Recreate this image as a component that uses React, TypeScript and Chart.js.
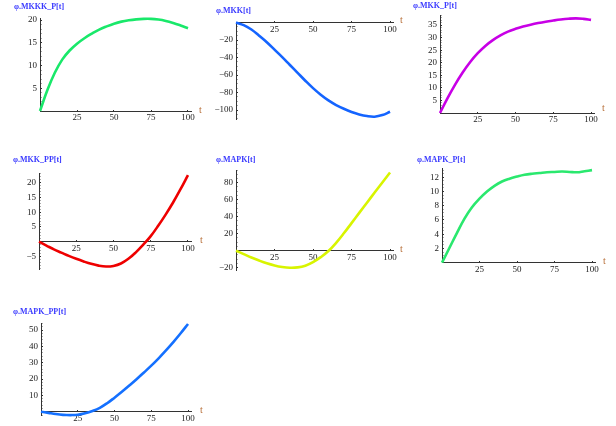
import React, { useEffect, useRef } from "react";
import { Chart, registerables } from "chart.js";
Chart.register(...registerables);

// time points (t)
const T_VALUES = [0, 5, 10, 15, 20, 25, 30, 35, 40, 45, 50, 55, 60, 65, 70, 75, 80, 85, 90, 95, 100];

// series values
const MKKK_P = [0, 4.6, 8.4, 11.3, 13.3, 14.8, 16.0, 17.0, 17.9, 18.6, 19.2, 19.65, 19.95, 20.15, 20.25, 20.25, 20.1, 19.8, 19.35, 18.8, 18.2];
const MKK = [0, -3, -8, -15, -22.5, -31, -39.5, -48.5, -57.5, -66.5, -75, -82.5, -89, -94.3, -98.6, -102.2, -105, -106.9, -107.6, -105.8, -102];
const MKK_P = [0, 5.9, 11.3, 16.1, 20.3, 23.8, 26.7, 29.0, 30.9, 32.4, 33.5, 34.4, 35.15, 35.8, 36.35, 36.8, 37.2, 37.5, 37.65, 37.45, 37.05];
const MKK_PP = [0, -1.3, -2.6, -3.7, -4.8, -5.8, -6.7, -7.5, -8.1, -8.4, -8.2, -7.4, -5.8, -3.6, -1.0, 1.9, 5.4, 9.2, 13.3, 17.8, 22.6];
const MAPK = [0, -4, -8, -11.6, -14.8, -17.3, -19.1, -20, -19.6, -17.6, -13.4, -7.6, -0.4, 9.3, 20.5, 32.5, 44.5, 56.5, 68.5, 80.2, 92];
const MAPK_P = [0, 2.1, 4.2, 6.2, 7.8, 9.0, 10.0, 10.8, 11.4, 11.8, 12.1, 12.35, 12.5, 12.6, 12.7, 12.75, 12.8, 12.75, 12.7, 12.85, 13.0];
const MAPK_PP = [0, -0.7, -1.4, -1.9, -2.1, -1.8, -0.9, 0.5, 2.4, 5.2, 8.6, 12.2, 16.0, 19.9, 24.0, 28.2, 32.7, 37.5, 42.6, 48.0, 53.7];

// tick labels
const X_TICK_LABELS = [25, 50, 75, 100];
const Y_TICKS_MKKK_P = [5, 10, 15, 20];
const Y_TICKS_MKK = [-20, -40, -60, -80, -100];
const Y_TICKS_MKK_P = [5, 10, 15, 20, 25, 30, 35];
const Y_TICKS_MKK_PP = [-5, 5, 10, 15, 20];
const Y_TICKS_MAPK = [-20, 20, 40, 60, 80];
const Y_TICKS_MAPK_P = [2, 4, 6, 8, 10, 12];
const Y_TICKS_MAPK_PP = [10, 20, 30, 40, 50];

const TITLES = ["φ.MKKK_P[t]", "φ.MKK[t]", "φ.MKK_P[t]", "φ.MKK_PP[t]", "φ.MAPK[t]", "φ.MAPK_P[t]", "φ.MAPK_PP[t]"];

type Panel = {
  title: string;
  values: number[];
  color: string;
  yTicks: number[];
  yMinor: number;
  yMin: number;
  yMax: number;
  cell: [number, number, number, number];
  area: [number, number, number, number];
  titlePos: [number, number];
  tPos: [number, number];
};

const X_MAX = 102.5;
const Y_AXIS_W = 30;

const PANELS: Panel[] = [
  { title: TITLES[0], values: MKKK_P, color: "#19e86a", yTicks: Y_TICKS_MKKK_P, yMinor: 1, yMin: 0, yMax: 20.4,
    cell: [0, 0, 205, 140], area: [40, 18.2, 191.7, 111], titlePos: [14, 7], tPos: [199, 110] },
  { title: TITLES[1], values: MKK, color: "#1464ff", yTicks: Y_TICKS_MKK, yMinor: 5, yMin: -110.6, yMax: 0.5,
    cell: [205, 0, 205, 140], area: [236, 22.1, 393.9, 119.3], titlePos: [216, 10.5], tPos: [400, 20] },
  { title: TITLES[2], values: MKK_P, color: "#c800e6", yTicks: Y_TICKS_MKK_P, yMinor: 1, yMin: 0, yMax: 39,
    cell: [410, 0, 206, 140], area: [440, 15, 594.8, 113], titlePos: [413, 5.5], tPos: [602, 108] },
  { title: TITLES[3], values: MKK_PP, color: "#ee0000", yTicks: Y_TICKS_MKK_PP, yMinor: 1, yMin: -9.25, yMax: 23.3,
    cell: [0, 140, 205, 150], area: [39, 173, 191.7, 269], titlePos: [13, 160], tPos: [200, 240] },
  { title: TITLES[4], values: MAPK, color: "#d8f400", yTicks: Y_TICKS_MAPK, yMinor: 5, yMin: -22.7, yMax: 95,
    cell: [205, 140, 205, 150], area: [236, 170, 393.9, 270], titlePos: [216, 160], tPos: [400, 249] },
  { title: TITLES[5], values: MAPK_P, color: "#2ae86e", yTicks: Y_TICKS_MAPK_P, yMinor: 0.5, yMin: 0, yMax: 13.26,
    cell: [410, 140, 206, 150], area: [442, 168.3, 595.75, 262.7], titlePos: [417, 159.5], tPos: [603, 261] },
  { title: TITLES[6], values: MAPK_PP, color: "#1470ff", yTicks: Y_TICKS_MAPK_PP, yMinor: 2, yMin: -2, yMax: 54.1,
    cell: [0, 290, 205, 136], area: [41, 323.3, 191.7, 415], titlePos: [13, 312], tPos: [200, 410] },
];

const TICK_FONT = { family: "'Liberation Serif', 'DejaVu Serif', serif", size: 9 };

function range(from: number, to: number, step: number): number[] {
  const out: number[] = [];
  const start = Math.ceil(from / step - 1e-9) * step;
  for (let v = start; v <= to + 1e-9; v += step) out.push(Math.round(v * 1000) / 1000);
  return out;
}

function PanelChart({ p }: { p: Panel }) {
  const ref = useRef<HTMLCanvasElement>(null);
  const [cl, ct, cw, ch] = p.cell;
  const [L, Tp, R, B] = p.area;
  useEffect(() => {
    const yMinorTicks = range(p.yMin, p.yMax, p.yMinor);
    const chart = new Chart(ref.current as HTMLCanvasElement, {
      type: "line",
      data: {
        datasets: [
          {
            data: T_VALUES.map((t, i) => ({ x: t, y: p.values[i] })),
            borderColor: p.color,
            borderWidth: 2.6,
            pointRadius: 0,
            tension: 0.4,
            fill: false,
            clip: false as any,
          },
        ],
      },
      options: {
        animation: false,
        responsive: false,
        maintainAspectRatio: false,
        events: [],
        layout: { padding: { left: L - cl - Y_AXIS_W, top: Tp - ct, right: cl + cw - R, bottom: ct + ch - B } },
        plugins: { legend: { display: false }, tooltip: { enabled: false }, title: { display: false } },
        scales: {
          x: {
            type: "linear",
            min: 0,
            max: X_MAX,
            position: { y: 0 } as any,
            afterBuildTicks: (scale: any) => {
              scale.ticks = X_TICK_LABELS.map((v) => ({ value: v }));
            },
            grid: {
              drawOnChartArea: false,
              drawTicks: true,
              tickLength: -2,
              tickColor: "#333",
              tickWidth: 1,
            },
            border: { display: true, color: "#333", width: 1 },
            ticks: {
              autoSkip: false,
              maxRotation: 0,
              padding: 3.5,
              font: TICK_FONT,
              color: "#222",
              callback: (v: any) => String(v),
            },
          },
          y: {
            type: "linear",
            min: p.yMin,
            max: p.yMax,
            position: "left",
            afterFit: (scale: any) => {
              scale.width = Y_AXIS_W;
            },
            afterBuildTicks: (scale: any) => {
              scale.ticks = yMinorTicks.map((v) => ({ value: v }));
            },
            grid: {
              drawOnChartArea: false,
              drawTicks: true,
              tickLength: -2,
              tickColor: (ctx: any) => (p.yTicks.includes(ctx.tick?.value) ? "#333" : "#aaa"),
              tickWidth: 1,
            },
            border: { display: true, color: "#333", width: 1 },
            ticks: {
              autoSkip: false,
              padding: 5,
              font: TICK_FONT,
              color: "#222",
              callback: (v: any) => (p.yTicks.includes(Number(v)) ? String(v).replace("-", "−") : ""),
            },
          },
        },
      },
    } as any);
    return () => chart.destroy();
  }, []);
  return (
    <>
      <canvas
        ref={ref}
        width={cw}
        height={ch}
        style={{ position: "absolute", left: cl, top: ct, width: cw, height: ch }}
      />
      <div
        style={{
          position: "absolute",
          left: p.titlePos[0],
          top: p.titlePos[1] - 5,
          font: "bold 8px 'Liberation Serif', serif",
          lineHeight: "10px",
          color: "#3a3aff",
          whiteSpace: "nowrap",
        }}
      >
        {p.title}
      </div>
      <div
        style={{
          position: "absolute",
          left: p.tPos[0],
          top: p.tPos[1] - 6,
          font: "10px 'Liberation Serif', serif",
          lineHeight: "12px",
          color: "#b8703a",
        }}
      >
        t
      </div>
    </>
  );
}

export default function App() {
  return (
    <div style={{ position: "absolute", left: 0, top: 0, width: 616, height: 426, background: "#fff", overflow: "hidden" }}>
      {PANELS.map((p, i) => (
        <PanelChart key={i} p={p} />
      ))}
    </div>
  );
}
